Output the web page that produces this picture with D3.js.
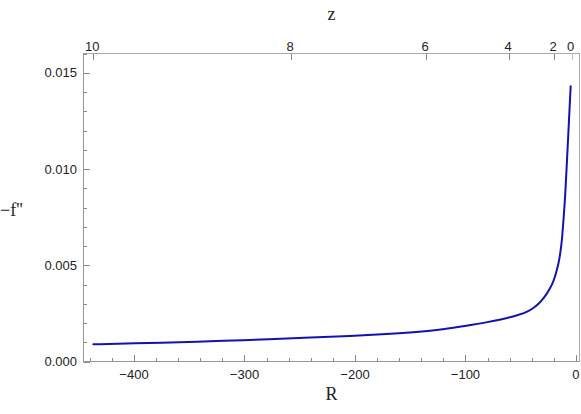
<!DOCTYPE html>
<html>
<head>
<meta charset="utf-8">
<script src="https://cdn.jsdelivr.net/npm/d3@7/dist/d3.min.js"></script>
<style>
  html, body { margin: 0; padding: 0; background: #fff; }
  svg { display: block; }
</style>
</head>
<body>
<svg id="chart" width="581" height="414"></svg>
<script>
// ---- data ----
const curveR = [-436.8, -400, -358.4, -320, -276.9, -240, -204.5, -170, -144.2, -120, -98.9, -80, -68.8, -59.7, -50.7, -44, -38.6, -33.5, -29.6, -26.3, -23.5, -21, -19.0, -17, -15.1, -12.9, -11.5, -9.95, -9.05, -7.0, -4.8];
const curveV = [0.000895, 0.00094, 0.00100, 0.001075, 0.001155, 0.00124, 0.001327, 0.00143, 0.00153, 0.00167, 0.00186, 0.00204, 0.00217, 0.00229, 0.00244, 0.00258, 0.00277, 0.00301, 0.00327, 0.00352, 0.00380, 0.00408, 0.00440, 0.00480, 0.00528, 0.00612, 0.00720, 0.00840, 0.00940, 0.01170, 0.01430];
const xTicks = [-400, -300, -200, -100, 0];
const yTicks = [0.000, 0.005, 0.010, 0.015];
const zTickLabels = [10, 8, 6, 4, 2, 0];
const zTickR = [-436.9, -257.7, -135.7, -60.6, -19.8, -3.9];

// ---- layout ----
const L = 83.5, R = 579.5, T = 53.5, B = 361.5;
const svg = d3.select("#chart");
const x = d3.scaleLinear().domain([-445.7, 3.2]).range([L, R]);
const y = d3.scaleLinear().domain([0, 0.016]).range([B, T]);

const frameCol = "#999";
const tickCol = "#888";
const textCol = "#222";
const sans = "'Liberation Sans', Arial, sans-serif";
const serif = "'Liberation Serif', 'Times New Roman', serif";

// frame
svg.append("rect").attr("x", L).attr("y", T).attr("width", R - L).attr("height", B - T)
  .attr("fill", "none").attr("stroke", "#aaa").attr("stroke-width", 1);
svg.append("line").attr("x1", L).attr("x2", L).attr("y1", T).attr("y2", B).attr("stroke", frameCol);
svg.append("line").attr("x1", L).attr("x2", R).attr("y1", B).attr("y2", B).attr("stroke", frameCol);

// bottom ticks (inward)
const xMinor = d3.range(-440, 1, 20).filter(v => !xTicks.includes(v));
const g = svg.append("g");
xMinor.forEach(v => {
  g.append("line").attr("x1", Math.round(x(v)) + 0.5).attr("x2", Math.round(x(v)) + 0.5)
    .attr("y1", B).attr("y2", B - 3.5).attr("stroke", tickCol);
});
xTicks.forEach(v => {
  const px = Math.round(x(v)) + 0.5;
  g.append("line").attr("x1", px).attr("x2", px).attr("y1", B).attr("y2", B - 6.5).attr("stroke", tickCol);
  g.append("text").attr("x", x(v)).attr("y", 379).attr("text-anchor", "middle")
    .attr("font-family", sans).attr("font-size", 13).attr("fill", textCol)
    .text(d3.format(".0f")(v).replace("-", "\u2212"));
});

// left ticks (inward)
const yMinor = d3.range(0, 0.0161, 0.001).filter(v => !yTicks.some(t => Math.abs(t - v) < 1e-9));
yMinor.forEach(v => {
  const py = Math.round(y(v)) + 0.5;
  g.append("line").attr("x1", L).attr("x2", L + 3.5).attr("y1", py).attr("y2", py).attr("stroke", tickCol);
});
yTicks.forEach(v => {
  const py = Math.round(y(v)) + 0.5;
  g.append("line").attr("x1", L).attr("x2", L + 6.5).attr("y1", py).attr("y2", py).attr("stroke", tickCol);
  g.append("text").attr("x", 77).attr("y", y(v) + 4.5).attr("text-anchor", "end")
    .attr("font-family", sans).attr("font-size", 13).attr("fill", textCol)
    .text(d3.format(".3f")(v));
});

// top z ticks (inward)
zTickR.forEach((r, i) => {
  const px = Math.round(x(r)) + 0.5;
  g.append("line").attr("x1", px).attr("x2", px).attr("y1", T).attr("y2", T + 6.5)
    .attr("stroke", i === zTickR.length - 1 ? "#bbb" : tickCol);
  g.append("text").attr("x", x(r) - 1).attr("y", 51).attr("text-anchor", "middle")
    .attr("font-family", sans).attr("font-size", 13).attr("fill", textCol)
    .text(zTickLabels[i]);
});

// curve
const pts = curveR.map((r, i) => [r, curveV[i]]);
svg.append("path").datum(pts)
  .attr("fill", "none").attr("stroke", "#1313b0").attr("stroke-width", 2)
  .attr("stroke-linejoin", "round").attr("stroke-linecap", "round")
  .attr("d", d3.line().x(d => x(d[0])).y(d => y(d[1])).curve(d3.curveBasis));

// axis labels
svg.append("text").attr("x", 331.5).attr("y", 400).attr("text-anchor", "middle")
  .attr("font-family", serif).attr("font-size", 18).attr("fill", textCol).text("R");
svg.append("text").attr("x", 331.5).attr("y", 20).attr("text-anchor", "middle")
  .attr("font-family", serif).attr("font-size", 18).attr("fill", textCol).text("z");
svg.append("text").attr("x", 0).attr("y", 216).attr("text-anchor", "start")
  .attr("font-family", serif).attr("font-size", 18).attr("fill", textCol).text("\u2212f''");
</script>
</body>
</html>
